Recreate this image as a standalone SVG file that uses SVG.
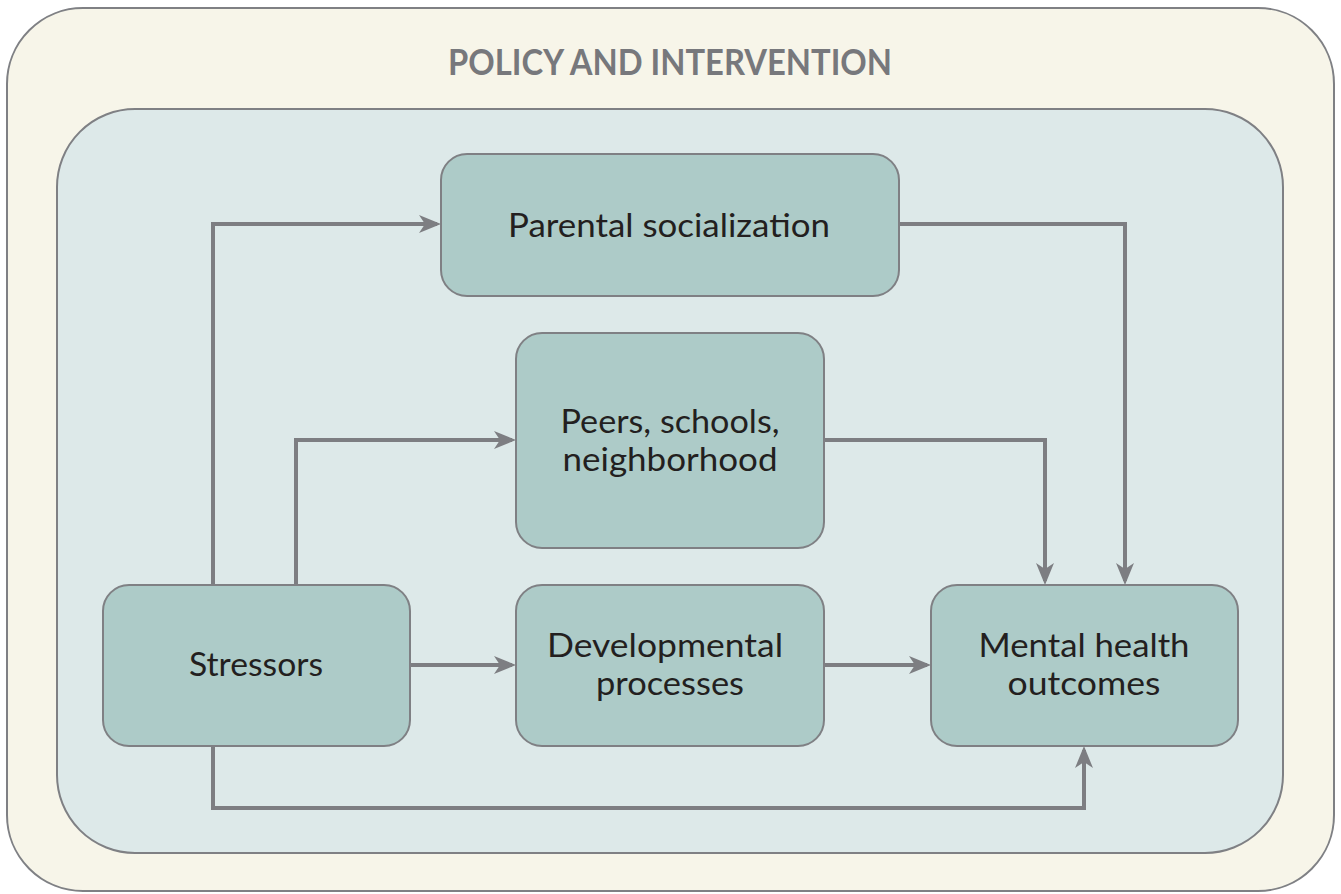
<svg xmlns="http://www.w3.org/2000/svg" width="1341" height="894" viewBox="0 0 1341 894">
  <style>
    .frame-outer { fill: #f7f5e9; stroke: #7f8084; stroke-width: 2; }
    .frame-inner { fill: #dde9e9; stroke: #7f8084; stroke-width: 2; }
    .node rect { fill: #adcbc8; stroke: #7f8084; stroke-width: 2; }
    .node text { font-family: Lato, "Liberation Sans", sans-serif; font-size: 33px; fill: #231f20; text-anchor: middle; }
    .title { font-family: Lato, "Liberation Sans", sans-serif; font-weight: 700; font-size: 37px; fill: #77787c; text-anchor: middle; }
    .conn { fill: none; stroke: #7d7e82; stroke-width: 4; stroke-linejoin: miter; }
  </style>
  <defs>
    <marker id="arrow" markerUnits="userSpaceOnUse" markerWidth="24" markerHeight="20" refX="18" refY="9" orient="auto">
      <path d="M0,0 L22,9 L0,18 L6,9 Z" fill="#7d7e82"/>
    </marker>
  </defs>

  <g id="frame-policy">
    <rect class="frame-outer" x="7" y="8" width="1327" height="883" rx="76" ry="76"/>
    <text class="title" x="670" y="75" textLength="444" lengthAdjust="spacingAndGlyphs">POLICY AND INTERVENTION</text>
  </g>
  <g id="frame-context">
    <rect class="frame-inner" x="57" y="109" width="1226" height="744" rx="78" ry="78"/>
  </g>

  <g id="connectors">
    <path class="conn" d="M213,585 V224 H437" marker-end="url(#arrow)"/>
    <path class="conn" d="M296,585 V440 H512" marker-end="url(#arrow)"/>
    <path class="conn" d="M410,665 H512" marker-end="url(#arrow)"/>
    <path class="conn" d="M824,665 H927" marker-end="url(#arrow)"/>
    <path class="conn" d="M899,224 H1125 V581" marker-end="url(#arrow)"/>
    <path class="conn" d="M824,440 H1045 V581" marker-end="url(#arrow)"/>
    <path class="conn" d="M213,746 V808 H1084 V750" marker-end="url(#arrow)"/>
  </g>

  <g id="node-parental" class="node">
    <rect x="441" y="154" width="458" height="142" rx="26" ry="26"/>
    <text x="669" y="237" textLength="322" lengthAdjust="spacingAndGlyphs">Parental socialization</text>
  </g>
  <g id="node-peers" class="node">
    <rect x="516" y="333" width="308" height="215" rx="26" ry="26"/>
    <text x="670" y="433" textLength="219" lengthAdjust="spacingAndGlyphs">Peers, schools,</text>
    <text x="670" y="471" textLength="215" lengthAdjust="spacingAndGlyphs">neighborhood</text>
  </g>
  <g id="node-stressors" class="node">
    <rect x="103" y="585" width="307" height="161" rx="26" ry="26"/>
    <text x="256" y="676" textLength="134" lengthAdjust="spacingAndGlyphs">Stressors</text>
  </g>
  <g id="node-developmental" class="node">
    <rect x="516" y="585" width="308" height="161" rx="26" ry="26"/>
    <text x="665" y="657" textLength="236" lengthAdjust="spacingAndGlyphs">Developmental</text>
    <text x="670" y="695" textLength="148" lengthAdjust="spacingAndGlyphs">processes</text>
  </g>
  <g id="node-mental" class="node">
    <rect x="931" y="585" width="307" height="161" rx="26" ry="26"/>
    <text x="1084" y="657" textLength="211" lengthAdjust="spacingAndGlyphs">Mental health</text>
    <text x="1084" y="695" textLength="153" lengthAdjust="spacingAndGlyphs">outcomes</text>
  </g>
</svg>
